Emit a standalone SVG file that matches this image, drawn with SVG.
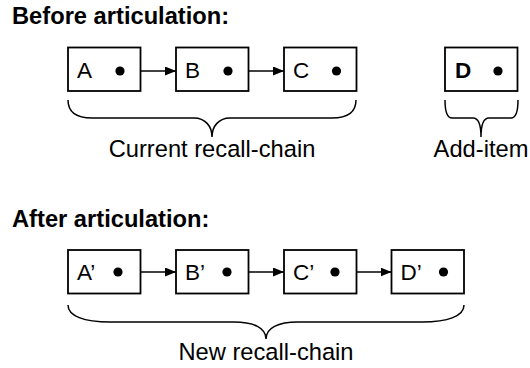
<svg xmlns="http://www.w3.org/2000/svg" width="530" height="368" viewBox="0 0 530 368">
<style>
.box{fill:#fff;stroke:#000;stroke-width:1.8}
.dot{fill:#000}
.lbl{font-family:"Liberation Sans",Arial,sans-serif;font-size:22.5px;fill:#000}
.title{font-family:"Liberation Sans",Arial,sans-serif;font-size:23.7px;font-weight:bold;fill:#000}
.cap{font-family:"Liberation Sans",Arial,sans-serif;font-size:23.7px;fill:#000;text-anchor:middle}
.link{stroke:#000;stroke-width:1.5;fill:none;marker-end:url(#arr)}
.brace{stroke:#000;stroke-width:1.5;fill:none}
</style>
<defs>
<marker id="arr" markerWidth="11" markerHeight="9" refX="11" refY="4.5" orient="auto" markerUnits="userSpaceOnUse">
<path d="M0,0 L11,4.5 L0,9 Z" fill="#000"/>
</marker>
</defs>
<rect width="530" height="368" fill="#fff"/>
<text class="title" x="12" y="24">Before articulation:</text>
<text class="title" x="12" y="227">After articulation:</text>

<g id="connectors">
<line class="link" x1="120" y1="71" x2="176" y2="71"/>
<line class="link" x1="228" y1="71" x2="284" y2="71"/>
<line class="link" x1="118" y1="272" x2="176" y2="272"/>
<line class="link" x1="227" y1="272" x2="284" y2="272"/>
<line class="link" x1="335" y1="272" x2="391.5" y2="272"/>
</g>

<g id="nodeA"><rect class="box" x="68" y="47.5" width="72.5" height="43.5"/><text class="lbl" x="77" y="77.5">A</text><circle class="dot" cx="120" cy="71" r="4.6"/></g>
<g id="nodeB"><rect class="box" x="176" y="47.5" width="72.5" height="43.5"/><text class="lbl" x="185" y="77.5">B</text><circle class="dot" cx="228" cy="71" r="4.6"/></g>
<g id="nodeC"><rect class="box" x="284" y="47.5" width="72.5" height="43.5"/><text class="lbl" x="293" y="77.5">C</text><circle class="dot" cx="336.5" cy="71" r="4.6"/></g>
<g id="nodeD"><rect class="box" x="445" y="47.5" width="72.5" height="43.5"/><text class="lbl" x="455" y="77.5" font-weight="bold">D</text><circle class="dot" cx="498" cy="71" r="4.6"/></g>

<g id="nodeA2"><rect class="box" x="68" y="250" width="72.5" height="43.5"/><text class="lbl" x="77" y="280">A’</text><circle class="dot" cx="118" cy="272" r="4.6"/></g>
<g id="nodeB2"><rect class="box" x="176" y="250" width="72.5" height="43.5"/><text class="lbl" x="185" y="280">B’</text><circle class="dot" cx="227" cy="272" r="4.6"/></g>
<g id="nodeC2"><rect class="box" x="284" y="250" width="72.5" height="43.5"/><text class="lbl" x="293" y="280">C’</text><circle class="dot" cx="335" cy="272" r="4.6"/></g>
<g id="nodeD2"><rect class="box" x="391.5" y="250" width="72.5" height="43.5"/><text class="lbl" x="400.5" y="280">D’</text><circle class="dot" cx="443.5" cy="272" r="4.6"/></g>

<g id="braces">
<path class="brace" d="M68,100 C68,112 76,118 92,118 L194,118 C205,118 212,126 212,137 C212,126 219,118 230,118 L332,118 C348,118 356,112 356,100"/>
<path class="brace" d="M445,100 C445,112 447,118 452,118 L473,118 C478,118 481,125 481,137 C481,125 484,118 489,118 L511,118 C516,118 518,112 518,100"/>
<path class="brace" d="M68,305 C68,316 84,322 110,322 L234,322 C254,322 266,328 266,339 C266,328 278,322 298,322 L422,322 C448,322 464,316 464,305"/>
</g>

<g id="captions">
<text class="cap" x="212" y="157">Current recall-chain</text>
<text class="cap" x="481" y="157">Add-item</text>
<text class="cap" x="266" y="360">New recall-chain</text>
</g>
</svg>
